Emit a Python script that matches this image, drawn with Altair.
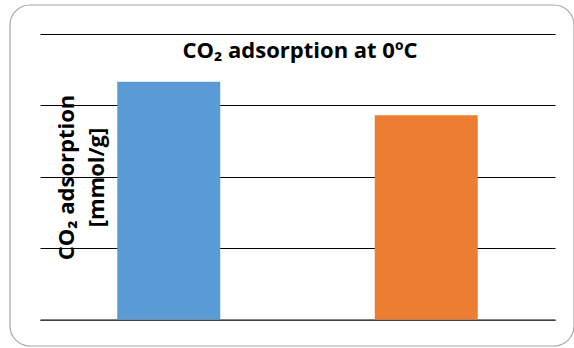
import altair as alt
import pandas as pd

# Data
samples = ["Sample 1", "Sample 2"]
adsorption = [3.33, 2.86]
colors = ["#5B9BD5", "#ED7D31"]
y_ticks = [0, 1, 2, 3, 4]
title_text = "CO₂ adsorption at 0ºC"
y_title = ["CO₂ adsorption", "[mmol/g]"]

df = pd.DataFrame({"sample": samples, "value": adsorption})

FONT = "Open Sans"

bars = alt.Chart(df).mark_bar().encode(
    x=alt.X("sample:N", sort=samples,
            scale=alt.Scale(paddingInner=0.6, paddingOuter=0.3),
            axis=alt.Axis(title=None, labels=False, ticks=False,
                          domainColor="#595959", domainWidth=1.5, grid=False)),
    y=alt.Y("value:Q", scale=alt.Scale(domain=[0, 4], nice=False),
            axis=alt.Axis(values=y_ticks, labels=False, ticks=False, domain=False,
                          grid=True, gridColor="#000000", gridWidth=1, gridOpacity=1,
                          title=y_title, titleFont=FONT, titleFontSize=22,
                          titleFontWeight="bold", titleColor="#000000",
                          titleAngle=270, titleX=33, titleY=143,
                          titleAlign="center", titleBaseline="alphabetic",
                          titleLineHeight=30)),
    color=alt.Color("sample:N", scale=alt.Scale(domain=samples, range=colors), legend=None),
)

title_df = pd.DataFrame({"t": [title_text]})
title = alt.Chart(title_df).mark_text(
    font=FONT, fontSize=22, fontWeight="bold", color="#000000",
    align="center", baseline="alphabetic"
).encode(text="t:N", x=alt.value(260), y=alt.value(24))

border_df = pd.DataFrame({"b": [1]})
border = alt.Chart(border_df).mark_rect(
    fill=None, fillOpacity=0, stroke="#A6A6A6", strokeWidth=1.2, cornerRadius=20
).encode(x=alt.value(-30), x2=alt.value(534), y=alt.value(-29), y2=alt.value(312))

chart = alt.layer(border, bars, title).properties(
    width=515, height=285.5,
    autosize=alt.AutoSizeParams(type="none"),
    padding={"left": 40, "top": 34, "right": 19, "bottom": 28},
    background="white",
).configure_view(stroke=None)

chart.save("out.html", embed_options={"renderer": "svg", "actions": False})
